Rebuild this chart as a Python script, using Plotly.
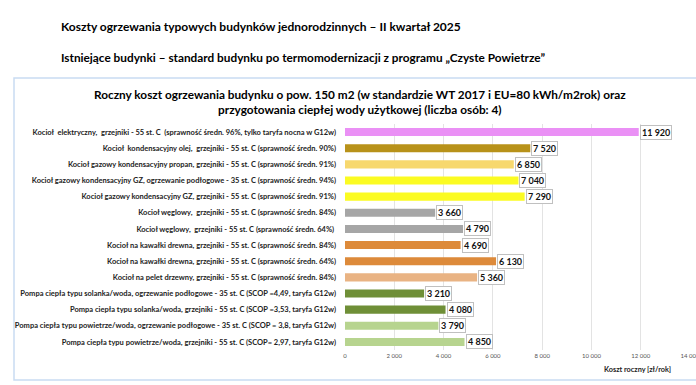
import plotly.graph_objects as go

categories = [
    "Kocioł  elektryczny,  grzejniki - 55 st. C  (sprawność średn. 96%, tylko taryfa nocna w G12w)",
    "Kocioł  kondensacyjny olej,  grzejniki - 55 st. C (sprawność średn. 90%)",
    "Kocioł gazowy kondensacyjny propan, grzejniki - 55 st. C (sprawność średn. 91%)",
    "Kocioł gazowy kondensacyjny GZ, ogrzewanie podłogowe - 35 st. C (sprawność średn. 94%)",
    "Kocioł gazowy kondensacyjny GZ, grzejniki - 55 st. C (sprawność średn. 91%)",
    "Kocioł węglowy,  grzejniki - 55 st. C (sprawność średn. 84%)",
    "Kocioł węglowy,  grzejniki - 55 st. C (sprawność średn. 64%) ",
    "Kocioł na kawałki drewna, grzejniki - 55 st. C (sprawność średn. 84%)",
    "Kocioł na kawałki drewna, grzejniki - 55 st. C (sprawność średn. 64%)",
    "Kocioł na pelet drzewny, grzejniki - 55 st. C (sprawność średn. 84%)",
    "Pompa ciepła typu solanka/woda, ogrzewanie podłogowe - 35 st. C (SCOP =4,49, taryfa G12w)",
    "Pompa ciepła typu solanka/woda, grzejniki - 55 st. C (SCOP =3,53, taryfa G12w)",
    "Pompa ciepła typu powietrze/woda, ogrzewanie podłogowe - 35 st. C (SCOP = 3,8, taryfa G12w)",
    "Pompa ciepła typu powietrze/woda, grzejniki - 55 st. C (SCOP= 2,97, taryfa G12w)",
]
values = [11920, 7520, 6850, 7040, 7290, 3660, 4790, 4690, 6130, 5360, 3210, 4080, 3790, 4850]
colors = ["#ea90f5", "#b8921a", "#f7d86e", "#fbfb22", "#fbfb22", "#a6a6a6", "#a6a6a6",
          "#dd8a3a", "#dd8a3a", "#e9b383", "#6f8f37", "#6f8f37", "#b7d48f", "#b7d48f"]
tick_values = [0, 2000, 4000, 6000, 8000, 10000, 12000, 14000]
tick_labels = ["0", "2 000", "4 000", "6 000", "8 000", "10 000", "12 000", "14 000"]

heading1 = "Koszty ogrzewania typowych budynków jednorodzinnych – II kwartał 2025"
heading2 = "Istniejące budynki – standard budynku po termomodernizacji z programu „Czyste Powietrze”"
chart_title = ("Roczny koszt ogrzewania budynku o pow. 150 m2 (w standardzie WT 2017 i EU=80 kWh/m2rok) oraz"
               "<br>przygotowania ciepłej wody użytkowej (liczba osób: 4)")
x_title = "Koszt roczny [zł/rok]"

W, H = 696, 385
ML, MR, MT, MB = 345, 6, 124, 35
PW, PH = W - ML - MR, H - MT - MB

def px(x):
    return (x - ML) / PW

def py(y):
    return (H - MB - y) / PH

FONT = "Lato"

fig = go.Figure()
fig.add_trace(go.Bar(
    x=values, y=categories, orientation="h",
    marker=dict(color=colors, line=dict(width=0)),
    width=0.5, hoverinfo="skip",
))

annotations = []
for c, v in zip(categories, values):
    annotations.append(dict(
        x=v, y=c, xref="x", yref="y", xanchor="left", yanchor="middle",
        xshift=1, text=f"{v:,}".replace(",", " "), showarrow=False,
        font=dict(family=FONT, size=9, color="#111", weight="bold"),
        bgcolor="white", bordercolor="#c0c0c0", borderwidth=1, borderpad=1,
    ))

annotations += [
    dict(x=px(59), y=py(26), xref="paper", yref="paper", xanchor="left", yanchor="middle",
         text=heading1, showarrow=False, font=dict(family=FONT, size=12, color="#000", weight="bold")),
    dict(x=px(59), y=py(57), xref="paper", yref="paper", xanchor="left", yanchor="middle",
         text=heading2, showarrow=False, font=dict(family=FONT, size=11.8, color="#000", weight="bold")),
    dict(x=px(360), y=py(102), xref="paper", yref="paper", xanchor="center", yanchor="middle",
         text=chart_title, showarrow=False, align="center",
         font=dict(family=FONT, size=11.8, color="#000", weight="bold")),
    dict(x=px(673), y=py(369), xref="paper", yref="paper", xanchor="right", yanchor="middle",
         text=x_title, showarrow=False, font=dict(family=FONT, size=7.3, color="#222", weight="bold")),
]

fig.update_layout(
    width=W, height=H,
    margin=dict(l=ML, r=MR, t=MT, b=MB, autoexpand=False),
    paper_bgcolor="white", plot_bgcolor="white",
    showlegend=False,
    annotations=annotations,
    shapes=[dict(type="rect", xref="paper", yref="paper",
                 x0=px(14), x1=px(705), y0=py(380), y1=py(78),
                 line=dict(color="#c9dcf2", width=1.5), layer="below")],
)
fig.update_xaxes(
    range=[0, 14000], tickvals=tick_values, ticktext=tick_labels, automargin=False,
    showgrid=True, gridcolor="#e3e3e3", gridwidth=1, zeroline=False, showline=False,
    tickfont=dict(family=FONT, size=6, color="#555"), ticks="", ticklabelstandoff=1,
    ticklabeloverflow="allow",
)
fig.update_yaxes(
    autorange="reversed", showgrid=False, zeroline=False, showline=False, ticks="",
    automargin=False,
    tickfont=dict(family=FONT, size=7.5, color="#222", weight="bold"), ticklabelstandoff=8,
)

fig.write_html("out.html", config={"displayModeBar": False, "staticPlot": True},
               post_script="document.body.style.margin='0';document.body.style.overflow='hidden';")
